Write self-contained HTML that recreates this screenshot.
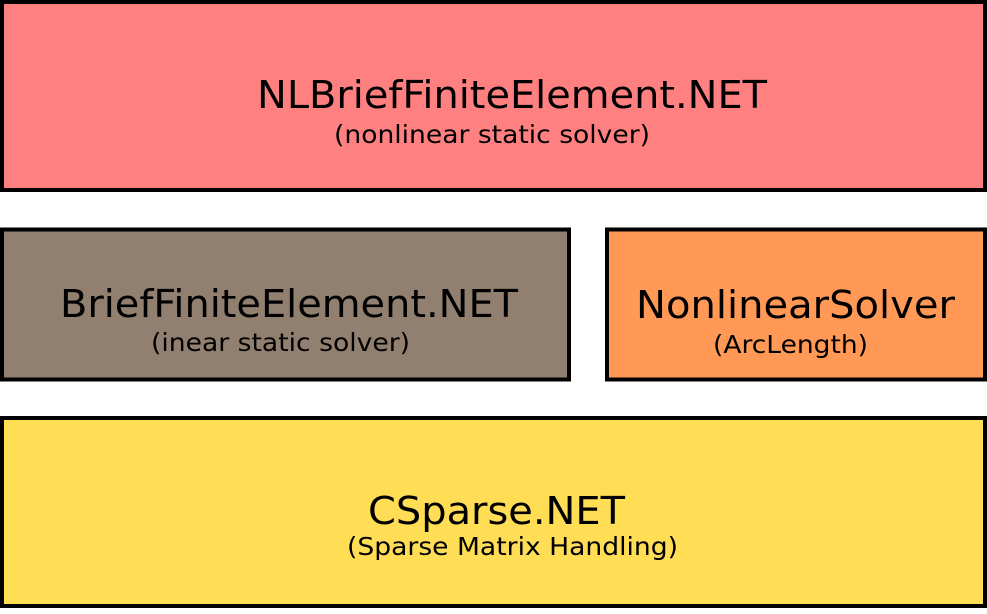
<!DOCTYPE html>
<html><head><style>html,body{margin:0;padding:0;background:#fff}</style></head>
<body>
<svg width="987" height="609" xmlns="http://www.w3.org/2000/svg" font-family="DejaVu Sans, Liberation Sans, sans-serif" fill="#000">
<rect x="2" y="2" width="983" height="188" fill="#ff8080" stroke="#000" stroke-width="4"/>
<rect x="2" y="229.5" width="567" height="150" fill="#917f70" stroke="#000" stroke-width="4"/>
<rect x="607" y="229.5" width="378" height="150" fill="#ff9955" stroke="#000" stroke-width="4"/>
<rect x="2" y="418" width="983" height="188" fill="#ffdd55" stroke="#000" stroke-width="4"/>
<text x="257" y="108" font-size="38" textLength="510" lengthAdjust="spacingAndGlyphs">NLBriefFiniteElement.NET</text>
<text x="334" y="143" font-size="25" textLength="316" lengthAdjust="spacingAndGlyphs">(nonlinear static solver)</text>
<text x="60" y="317" font-size="38" textLength="458" lengthAdjust="spacingAndGlyphs">BriefFiniteElement.NET</text>
<text x="151" y="351" font-size="25" textLength="259" lengthAdjust="spacingAndGlyphs">(inear static solver)</text>
<text x="636" y="318" font-size="38" textLength="319" lengthAdjust="spacingAndGlyphs">NonlinearSolver</text>
<text x="713" y="353" font-size="25" textLength="155" lengthAdjust="spacingAndGlyphs">(ArcLength)</text>
<text x="368" y="524" font-size="38" textLength="257" lengthAdjust="spacingAndGlyphs">CSparse.NET</text>
<text x="347" y="555" font-size="25" textLength="331" lengthAdjust="spacingAndGlyphs">(Sparse Matrix Handling)</text>
</svg>
</body></html>
